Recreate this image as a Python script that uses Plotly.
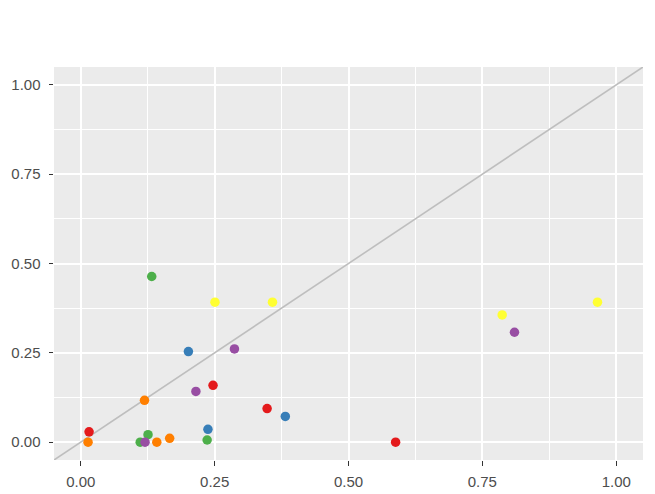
import plotly.graph_objects as go

# Data (ggplot2 Set1 palette groups)
groups = ["red", "blue", "green", "purple", "orange", "yellow"]
colors = {"red": "#E41A1C", "blue": "#377EB8", "green": "#4DAF4A",
          "purple": "#984EA3", "orange": "#FF7F00", "yellow": "#FFFF33"}

red_x = [0.0155, 0.247, 0.348, 0.588]
red_y = [0.029, 0.159, 0.094, 0.0]
blue_x = [0.201, 0.2375, 0.382]
blue_y = [0.2535, 0.036, 0.072]
green_x = [0.1325, 0.111, 0.1256, 0.236]
green_y = [0.4636, 0.0, 0.021, 0.006]
purple_x = [0.120, 0.215, 0.287, 0.810]
purple_y = [0.0, 0.142, 0.261, 0.3076]
orange_x = [0.0136, 0.119, 0.142, 0.166]
orange_y = [0.0, 0.117, 0.0, 0.0106]
yellow_x = [0.2506, 0.358, 0.787, 0.965]
yellow_y = [0.3916, 0.3916, 0.356, 0.3916]

series = {
    "red": (red_x, red_y),
    "blue": (blue_x, blue_y),
    "green": (green_x, green_y),
    "purple": (purple_x, purple_y),
    "orange": (orange_x, orange_y),
    "yellow": (yellow_x, yellow_y),
}

ref_line = [-0.2, 1.2]  # identity line y = x
tick_vals = [0.0, 0.25, 0.5, 0.75, 1.0]
tick_text = ["0.00", "0.25", "0.50", "0.75", "1.00"]

fig = go.Figure()
fig.add_trace(go.Scatter(x=ref_line, y=ref_line, mode="lines",
                         line=dict(color="#BEBEBE", width=1.6),
                         hoverinfo="skip", showlegend=False))
for g in groups:
    xs, ys = series[g]
    fig.add_trace(go.Scatter(x=xs, y=ys, mode="markers",
                             marker=dict(color=colors[g], size=9.5, line=dict(width=0)),
                             showlegend=False, name=g))

axis_common = dict(
    range=[-0.05, 1.05],
    tickvals=tick_vals, ticktext=tick_text,
    showgrid=True, gridcolor="white", gridwidth=2,
    zeroline=False, showline=False,
    ticks="outside", ticklen=4.5, tickwidth=1.3, tickcolor="#333333",
    tickfont=dict(family="Liberation Sans, Arial, sans-serif", size=15, color="#4D4D4D"),
    minor=dict(showgrid=True, gridcolor="white", gridwidth=1,
               tickvals=[0.125, 0.375, 0.625, 0.875]),
    fixedrange=True,
    automargin=False,
)

fig.update_layout(
    width=655, height=494,
    margin=dict(l=54, r=12, t=67, b=34),
    paper_bgcolor="white",
    plot_bgcolor="#EBEBEB",
    xaxis=dict(**axis_common, ticklabelstandoff=3),
    yaxis=dict(**axis_common, ticklabelstandoff=5),
    showlegend=False,
)

fig.write_html("out.html")
